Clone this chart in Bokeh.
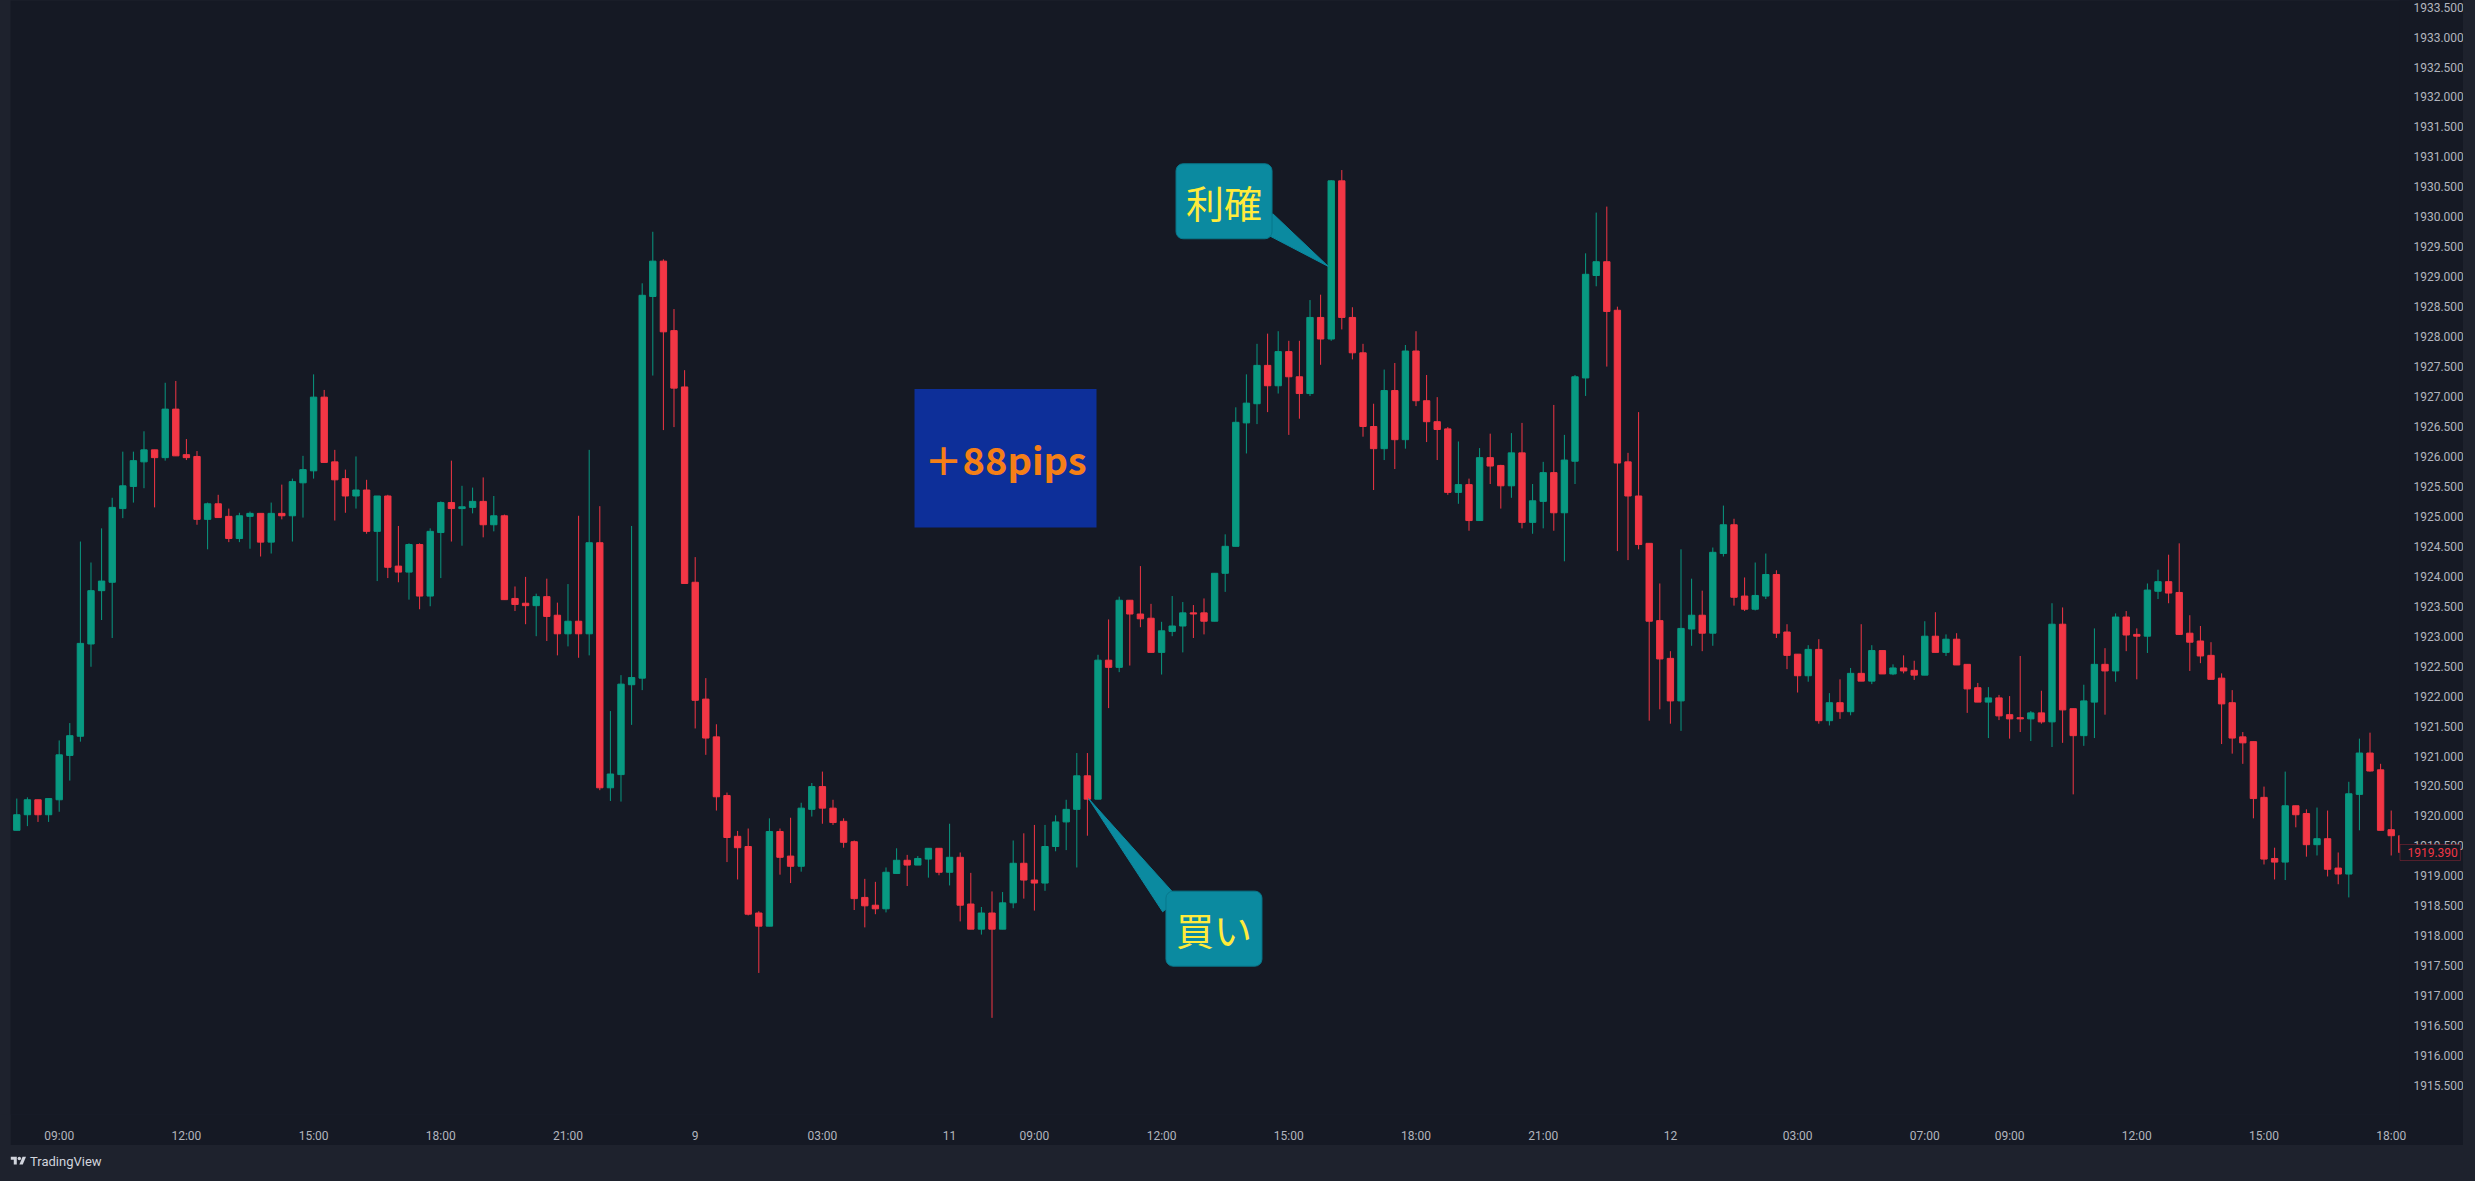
import numpy as np
from bokeh.plotting import figure
from bokeh.layouts import column, row
from bokeh.models import (ColumnDataSource, FixedTicker, SingleIntervalTicker,
                          PrintfTickFormatter, Label, BoxAnnotation, Div, Range1d)
from bokeh.embed import file_html
from bokeh.resources import INLINE

# ---------------- data (XAUUSD 15-minute candles) ----------------
opens = [1919.76, 1920.02, 1920.27, 1920.02, 1920.27, 1921.01, 1921.33, 1922.87, 1923.76, 1923.90,
         1925.13, 1925.50, 1925.91, 1926.11, 1925.98, 1926.79, 1926.03, 1926.00, 1924.95, 1925.21,
         1925.00, 1924.63, 1925.00, 1925.05, 1924.57, 1925.05, 1925.01, 1925.56, 1925.76, 1926.99,
         1925.91, 1925.63, 1925.34, 1925.44, 1924.75, 1925.34, 1924.17, 1924.07, 1924.53, 1923.67,
         1924.73, 1925.23, 1925.13, 1925.15, 1925.25, 1924.86, 1925.01, 1923.63, 1923.55, 1923.51,
         1923.66, 1923.35, 1923.04, 1923.25, 1923.04, 1924.56, 1920.47, 1920.69, 1922.19, 1922.30,
         1928.67, 1929.26, 1928.10, 1927.16, 1923.90, 1921.95, 1921.32, 1920.34, 1919.66, 1919.49,
         1918.38, 1918.16, 1919.74, 1919.33, 1919.16, 1920.11, 1920.49, 1920.13, 1919.91, 1919.57,
         1918.64, 1918.51, 1918.45, 1919.04, 1919.26, 1919.18, 1919.28, 1919.46, 1919.06, 1919.31,
         1918.53, 1918.11, 1918.38, 1918.11, 1918.55, 1919.21, 1918.93, 1918.88, 1919.49, 1919.90,
         1920.11, 1920.67, 1920.28, 1922.60, 1922.48, 1923.60, 1923.37, 1923.30, 1922.73, 1923.08,
         1923.17, 1923.39, 1923.39, 1923.25, 1924.05, 1924.50, 1926.56, 1926.88, 1927.52, 1927.18,
         1927.75, 1927.33, 1927.05, 1928.32, 1927.96, 1930.60, 1928.32, 1927.73, 1926.50, 1926.13,
         1927.10, 1926.28, 1927.76, 1926.93, 1926.58, 1926.46, 1925.40, 1925.53, 1924.93, 1925.98,
         1925.85, 1925.51, 1926.06, 1924.90, 1925.25, 1925.73, 1925.06, 1925.92, 1927.31, 1929.02,
         1929.25, 1928.44, 1925.91, 1925.34, 1924.55, 1923.26, 1922.63, 1921.92, 1923.12, 1923.35,
         1923.05, 1924.38, 1924.86, 1923.67, 1923.45, 1923.67, 1924.03, 1923.07, 1922.70, 1922.34,
         1922.78, 1921.59, 1921.89, 1921.74, 1922.38, 1922.25, 1922.76, 1922.37, 1922.47, 1922.43,
         1922.35, 1923.00, 1922.73, 1922.95, 1922.53, 1922.14, 1921.90, 1921.97, 1921.69, 1921.64,
         1921.62, 1921.72, 1921.57, 1923.20, 1921.79, 1921.34, 1921.90, 1922.53, 1922.42, 1923.32,
         1923.03, 1923.00, 1923.75, 1923.91, 1923.73, 1923.05, 1922.92, 1922.68, 1922.30, 1921.89,
         1921.32, 1921.24, 1920.31, 1919.29, 1919.23, 1920.17, 1920.04, 1919.52, 1919.62, 1919.13,
         1919.03, 1920.36, 1921.05, 1920.77, 1919.77, 1919.67]
highs = [1920.29, 1920.31, 1920.27, 1920.29, 1921.26, 1921.55, 1924.58, 1924.23, 1924.80, 1925.31,
         1926.08, 1926.08, 1926.42, 1926.11, 1927.23, 1927.26, 1926.29, 1926.09, 1925.23, 1925.36,
         1925.13, 1925.06, 1925.08, 1925.05, 1925.23, 1925.53, 1925.63, 1926.01, 1927.37, 1927.11,
         1926.11, 1925.78, 1926.00, 1925.61, 1925.34, 1925.36, 1924.84, 1924.55, 1924.55, 1924.80,
         1925.25, 1925.93, 1925.51, 1925.48, 1925.65, 1925.34, 1925.03, 1923.83, 1923.99, 1923.71,
         1923.96, 1923.56, 1923.87, 1925.01, 1926.11, 1925.17, 1921.75, 1922.35, 1924.84, 1928.89,
         1929.75, 1929.29, 1928.46, 1927.44, 1924.32, 1922.30, 1921.53, 1920.39, 1919.75, 1919.79,
         1918.41, 1919.96, 1919.79, 1919.97, 1920.22, 1920.55, 1920.74, 1920.27, 1919.96, 1919.59,
         1918.95, 1918.90, 1919.14, 1919.46, 1919.35, 1919.33, 1919.46, 1919.46, 1919.87, 1919.39,
         1919.05, 1918.48, 1918.74, 1918.73, 1919.59, 1919.71, 1919.85, 1919.85, 1920.01, 1920.27,
         1921.05, 1921.05, 1922.69, 1923.28, 1923.66, 1923.60, 1924.17, 1923.54, 1923.24, 1923.67,
         1923.57, 1923.52, 1923.63, 1924.05, 1924.70, 1926.82, 1927.37, 1927.88, 1928.05, 1928.09,
         1927.93, 1927.93, 1928.61, 1928.70, 1930.61, 1930.78, 1928.49, 1927.88, 1926.88, 1927.45,
         1927.56, 1927.86, 1928.09, 1927.36, 1926.99, 1926.49, 1926.25, 1925.63, 1926.14, 1926.38,
         1925.86, 1926.39, 1926.56, 1925.54, 1925.91, 1926.86, 1926.36, 1927.36, 1929.39, 1930.07,
         1930.17, 1928.50, 1926.06, 1926.74, 1924.55, 1923.88, 1922.75, 1924.45, 1923.96, 1923.76,
         1924.48, 1925.18, 1924.96, 1923.98, 1924.23, 1924.38, 1924.10, 1923.20, 1922.70, 1922.85,
         1922.95, 1922.05, 1922.28, 1922.47, 1923.20, 1922.85, 1922.76, 1922.53, 1922.68, 1922.59,
         1923.25, 1923.40, 1923.03, 1923.05, 1922.53, 1922.22, 1922.15, 1922.02, 1922.00, 1922.67,
         1921.75, 1922.09, 1923.55, 1923.48, 1921.79, 1922.19, 1923.13, 1922.80, 1923.38, 1923.42,
         1923.13, 1923.88, 1924.11, 1924.36, 1924.55, 1923.35, 1923.17, 1922.90, 1922.38, 1922.10,
         1921.40, 1921.24, 1920.49, 1919.47, 1920.74, 1920.17, 1920.11, 1920.14, 1920.09, 1919.39,
         1920.57, 1921.29, 1921.39, 1920.87, 1920.09, 1919.69]
lows = [1919.76, 1919.83, 1919.90, 1919.90, 1920.07, 1920.59, 1921.24, 1922.49, 1923.27, 1922.97,
        1924.97, 1925.23, 1925.47, 1925.15, 1925.93, 1926.01, 1925.94, 1924.86, 1924.45, 1924.98,
        1924.57, 1924.57, 1924.46, 1924.33, 1924.38, 1924.95, 1924.58, 1924.98, 1925.63, 1925.90,
        1924.93, 1925.06, 1925.13, 1924.71, 1923.92, 1923.97, 1923.90, 1923.61, 1923.45, 1923.50,
        1923.97, 1924.58, 1924.51, 1925.05, 1924.65, 1924.75, 1923.61, 1923.42, 1923.20, 1923.00,
        1922.92, 1922.68, 1922.83, 1922.64, 1922.68, 1920.43, 1920.25, 1920.24, 1921.52, 1922.10,
        1927.35, 1926.44, 1926.49, 1923.88, 1921.46, 1921.02, 1920.09, 1919.23, 1918.94, 1918.34,
        1917.38, 1918.16, 1919.02, 1918.88, 1919.07, 1919.99, 1919.87, 1919.85, 1919.47, 1918.43,
        1918.14, 1918.36, 1918.39, 1919.04, 1918.83, 1919.18, 1918.97, 1919.01, 1918.84, 1918.24,
        1918.11, 1918.02, 1916.63, 1918.11, 1918.46, 1918.62, 1918.42, 1918.75, 1919.41, 1919.43,
        1919.14, 1919.67, 1920.28, 1921.80, 1922.40, 1922.51, 1923.15, 1922.73, 1922.36, 1923.00,
        1922.73, 1922.97, 1923.03, 1923.25, 1923.74, 1924.50, 1926.05, 1926.54, 1926.74, 1927.05,
        1926.36, 1926.63, 1927.01, 1927.53, 1927.93, 1928.12, 1927.62, 1926.33, 1925.44, 1925.94,
        1925.79, 1926.13, 1926.84, 1926.24, 1925.94, 1925.36, 1925.21, 1924.76, 1924.93, 1925.54,
        1925.13, 1925.31, 1924.80, 1924.71, 1924.80, 1924.76, 1924.25, 1925.54, 1927.01, 1928.84,
        1927.50, 1924.42, 1924.27, 1924.45, 1921.59, 1921.78, 1921.54, 1921.42, 1922.84, 1922.75,
        1922.84, 1924.33, 1923.51, 1923.42, 1923.43, 1923.62, 1922.97, 1922.45, 1922.06, 1922.24,
        1921.54, 1921.51, 1921.62, 1921.68, 1922.25, 1922.20, 1922.37, 1922.35, 1922.38, 1922.27,
        1922.35, 1922.73, 1922.67, 1922.52, 1921.72, 1921.90, 1921.30, 1921.60, 1921.29, 1921.40,
        1921.25, 1921.54, 1921.15, 1921.22, 1920.36, 1921.17, 1921.30, 1921.69, 1922.24, 1922.75,
        1922.28, 1922.72, 1923.62, 1923.55, 1923.02, 1922.42, 1922.55, 1922.28, 1921.20, 1921.04,
        1920.87, 1919.96, 1919.19, 1918.94, 1918.93, 1919.81, 1919.32, 1919.34, 1918.99, 1918.86,
        1918.64, 1919.76, 1920.74, 1919.76, 1919.34, 1919.36]
closes = [1920.02, 1920.27, 1920.02, 1920.29, 1921.02, 1921.34, 1922.88, 1923.76, 1923.92, 1925.15,
          1925.51, 1925.93, 1926.11, 1925.98, 1926.79, 1926.01, 1925.98, 1924.95, 1925.21, 1924.98,
          1924.63, 1925.01, 1925.05, 1924.57, 1925.05, 1925.01, 1925.58, 1925.78, 1926.99, 1925.90,
          1925.61, 1925.34, 1925.44, 1924.75, 1925.34, 1924.15, 1924.07, 1924.53, 1923.67, 1924.75,
          1925.23, 1925.13, 1925.16, 1925.25, 1924.86, 1925.01, 1923.61, 1923.53, 1923.51, 1923.66,
          1923.33, 1923.04, 1923.25, 1923.04, 1924.56, 1920.47, 1920.70, 1922.20, 1922.31, 1928.69,
          1929.26, 1928.08, 1927.14, 1923.88, 1921.93, 1921.30, 1920.32, 1919.64, 1919.47, 1918.36,
          1918.16, 1919.74, 1919.31, 1919.16, 1920.13, 1920.49, 1920.13, 1919.89, 1919.56, 1918.62,
          1918.50, 1918.45, 1919.06, 1919.26, 1919.18, 1919.29, 1919.46, 1919.06, 1919.31, 1918.51,
          1918.11, 1918.38, 1918.11, 1918.55, 1919.21, 1918.93, 1918.88, 1919.49, 1919.90, 1920.11,
          1920.67, 1920.28, 1922.60, 1922.48, 1923.60, 1923.37, 1923.29, 1922.73, 1923.09, 1923.17,
          1923.39, 1923.37, 1923.25, 1924.05, 1924.50, 1926.57, 1926.89, 1927.52, 1927.18, 1927.75,
          1927.33, 1927.05, 1928.32, 1927.96, 1930.60, 1928.32, 1927.73, 1926.50, 1926.13, 1927.10,
          1926.28, 1927.76, 1926.93, 1926.58, 1926.45, 1925.40, 1925.53, 1924.93, 1925.98, 1925.84,
          1925.51, 1926.06, 1924.90, 1925.26, 1925.73, 1925.06, 1925.94, 1927.33, 1929.04, 1929.25,
          1928.42, 1925.89, 1925.34, 1924.53, 1923.25, 1922.62, 1921.92, 1923.13, 1923.35, 1923.05,
          1924.40, 1924.86, 1923.65, 1923.45, 1923.68, 1924.03, 1923.05, 1922.68, 1922.34, 1922.78,
          1921.59, 1921.89, 1921.74, 1922.38, 1922.25, 1922.76, 1922.37, 1922.47, 1922.42, 1922.35,
          1923.00, 1922.73, 1922.95, 1922.52, 1922.12, 1921.90, 1921.97, 1921.67, 1921.62, 1921.62,
          1921.72, 1921.57, 1923.20, 1921.77, 1921.34, 1921.92, 1922.53, 1922.42, 1923.32, 1923.02,
          1923.00, 1923.77, 1923.91, 1923.72, 1923.03, 1922.90, 1922.67, 1922.28, 1921.87, 1921.30,
          1921.22, 1920.29, 1919.28, 1919.23, 1920.17, 1920.02, 1919.52, 1919.62, 1919.11, 1919.03,
          1920.37, 1921.05, 1920.75, 1919.76, 1919.67, 1919.39]

# time-axis labels (bar index -> label)
time_tick_bars = [4, 16, 28, 40, 52, 64, 76, 88, 96, 108, 120, 132, 144, 156, 168, 180, 188, 200, 212, 224]
time_tick_labels = ["09:00", "12:00", "15:00", "18:00", "21:00", "9", "03:00", "11", "09:00", "12:00",
                    "15:00", "18:00", "21:00", "12", "03:00", "07:00", "09:00", "12:00", "15:00", "18:00"]
last_price = 1919.39

# ---------------- styling ----------------
BG = "#151924"
PANEL = "#1E222D"
UP = "#089981"
DOWN = "#F23645"
AXIS_TXT = "#B2B5BE"
CALLOUT = "#0B8AA0"
CALLOUT_EDGE = "#08788C"
YELLOW = "#FFEB3B"

# horizontal geometry: bars are 10.6 px apart; the price scale starts at bar 224.78
X_START = -0.594
PANE_END = 224.78
X_END = 230.82
Y_LOW, Y_HIGH = 1915.017, 1933.61

n = len(opens)
o = np.array(opens)
c = np.array(closes)
src = ColumnDataSource(dict(
    x=list(range(n)),
    h=highs, l=lows,
    top=list(np.maximum(o, c)), bottom=list(np.minimum(o, c)),
    color=[UP if cc >= oo else DOWN for oo, cc in zip(opens, closes)],
))

p = figure(width=2453, height=1145,
           x_range=Range1d(X_START, X_END), y_range=Range1d(Y_LOW, Y_HIGH),
           output_backend="svg", toolbar_location=None, y_axis_location="right",
           min_border_left=0, min_border_right=0, min_border_top=0, min_border_bottom=27,
           background_fill_color=BG, border_fill_color=BG, outline_line_color=None)
p.xgrid.visible = False
p.ygrid.visible = False

p.segment(x0="x", y0="h", x1="x", y1="l", source=src, line_color="color", line_width=1)
p.vbar(x="x", width=0.6, top="top", bottom="bottom", source=src,
       fill_color="color", line_color="color", line_width=1)

# callout tails
p.patch(x=[116.9, 118.5, 123.74], y=[1929.80, 1930.05, 1929.17],
        fill_color=CALLOUT, line_color=CALLOUT, line_width=1)
p.patch(x=[108.1, 109.6, 101.11], y=[1918.40, 1918.62, 1920.29],
        fill_color=CALLOUT, line_color=CALLOUT, line_width=1)

# price-scale area (covers the part of the last bar hidden under the scale)
p.quad(left=[PANE_END], right=[X_END + 1], bottom=[Y_LOW - 1], top=[Y_HIGH + 1],
       fill_color=BG, line_color=None)

# axes
p.xaxis.ticker = FixedTicker(ticks=time_tick_bars)
p.xaxis.major_label_overrides = {b: s for b, s in zip(time_tick_bars, time_tick_labels)}
p.yaxis.ticker = SingleIntervalTicker(interval=0.5, num_minor_ticks=0)
p.yaxis.formatter = PrintfTickFormatter(format="%.3f")
p.yaxis.fixed_location = PANE_END
for ax in (p.xaxis[0], p.yaxis[0]):
    ax.axis_line_color = None
    ax.major_tick_line_color = None
    ax.minor_tick_line_color = None
    ax.major_label_text_color = AXIS_TXT
    ax.major_label_text_font = "Roboto"
    ax.major_label_text_font_size = "12px"
    ax.major_label_standoff = 8

# ---------------- drawings ----------------
# "+88pips" box
p.add_layout(BoxAnnotation(left=84.69, right=101.86, top=1927.124, bottom=1924.813,
                           fill_color="#0D2F99", fill_alpha=1.0, line_color=None))
p.add_layout(Label(x=93.28, y=1925.97, text="＋88pips", text_font="Noto Sans CJK JP",
                   text_font_style="bold", text_font_size="38px", text_color="#F57F17",
                   text_align="center", text_baseline="middle"))

# callout boxes
p.add_layout(Label(x=113.89, y=1930.259, text="利確", text_font="Noto Sans CJK JP",
                   text_font_size="38px", text_color=YELLOW, text_align="center",
                   text_baseline="middle", background_fill_color=CALLOUT,
                   border_line_color=CALLOUT_EDGE, border_line_width=1,
                   padding=10, border_radius=7))
p.add_layout(Label(x=112.94, y=1918.119, text="買い", text_font="Noto Sans CJK JP",
                   text_font_size="38px", text_color=YELLOW, text_align="center",
                   text_baseline="middle", background_fill_color=CALLOUT,
                   border_line_color=CALLOUT_EDGE, border_line_width=1,
                   padding=10, border_radius=7))

# last price label on the price scale
p.add_layout(BoxAnnotation(left=PANE_END + 0.05, right=PANE_END + 5.75,
                           bottom=last_price - 0.133, top=last_price + 0.133,
                           fill_color=BG, fill_alpha=1.0, line_color=DOWN, line_width=1))
p.add_layout(Label(x=PANE_END, y=last_price, x_offset=8, text=f"{last_price:.3f}",
                   text_font="Roboto", text_font_size="12px", text_color=DOWN,
                   text_align="left", text_baseline="middle"))

# ---------------- page layout ----------------
left_strip = Div(text="", width=10, height=1145, margin=0,
                 styles={"background-color": PANEL})
right_strip = Div(text="", width=12, height=1145, margin=0,
                  styles={"background-color": PANEL})
logo_svg = ('<svg width="19" height="12" viewBox="0 0 36 28" style="vertical-align:-1px">'
            '<path d="M14 22H7V11H0V4h14v18z" fill="#D1D4DC"/>'
            '<circle cx="20" cy="8" r="4" fill="#D1D4DC"/>'
            '<path d="M28 22h-8l7.5-18h8L28 22z" fill="#D1D4DC"/></svg>')
footer = Div(text=f'<div style="padding:8px 0 0 9px;white-space:nowrap">{logo_svg}'
                  '<span style="margin-left:2px">TradingView</span></div>',
             width=2475, height=36, margin=0,
             styles={"background-color": PANEL, "color": "#D1D4DC",
                     "font-family": "Roboto", "font-size": "13px"})

root = column(row(left_strip, p, right_strip, spacing=0), footer, spacing=0,
              styles={"background-color": PANEL})

open("out.html", "w").write(file_html(root, INLINE))
